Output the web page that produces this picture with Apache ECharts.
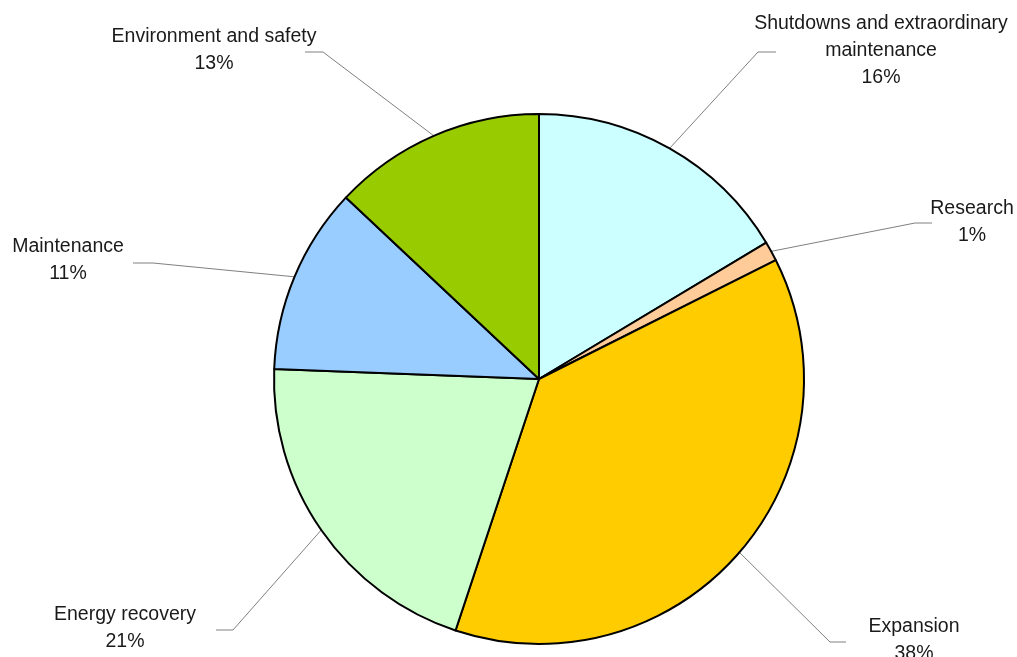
<!DOCTYPE html>
<html>
<head>
<meta charset="utf-8">
<script src="https://cdn.jsdelivr.net/npm/echarts@6/dist/echarts.min.js"></script>
<style>
  html, body { margin: 0; padding: 0; background: #ffffff; }
  #chart { width: 1017px; height: 657px; }
</style>
</head>
<body>
<div id="chart"></div>
<script>
// ---- data ----
const categories = [
  'Shutdowns and extraordinary\nmaintenance',
  'Research',
  'Expansion',
  'Energy recovery',
  'Maintenance',
  'Environment and safety'
];
const values = [16.4, 1.2, 37.5, 20.5, 11.4, 13.0];
const colors = ['#CCFFFF', '#FFCC99', '#FFCC00', '#CCFFCC', '#99CCFF', '#99CC00'];

// ---- label layout (annotation placement, not data) ----
// label centre, knee point and end of leader line
const labelPlacement = [
  { x: 881, y: 51,  knee: [758, 52],  end: [776, 52] },
  { x: 972, y: 222, knee: [915, 223], end: [932, 223] },
  { x: 914, y: 640, knee: [830, 642], end: [846, 642] },
  { x: 125, y: 628, knee: [233, 630], end: [216, 630] },
  { x: 68,  y: 260, knee: [153, 263], end: [133, 263] },
  { x: 214, y: 50,  knee: [323, 52],  end: [305, 52] }
];

const total = values.reduce((a, b) => a + b, 0);
const chart = echarts.init(document.getElementById('chart'), null, { renderer: 'canvas' });

chart.setOption({
  backgroundColor: '#ffffff',
  animation: false,
  series: [{
    type: 'pie',
    center: [539, 379],
    radius: 265,
    startAngle: 90,
    clockwise: true,
    avoidLabelOverlap: false,
    data: categories.map((name, i) => ({
      name: name,
      value: values[i],
      itemStyle: { color: colors[i] }
    })),
    itemStyle: { borderColor: '#000000', borderWidth: 2 },
    emphasis: { disabled: true },
    label: {
      show: true,
      position: 'outside',
      alignTo: 'none',
      fontFamily: 'Liberation Sans, Arial, sans-serif',
      fontSize: 19.5,
      lineHeight: 27,
      color: '#1a1a1a',
      align: 'center',
      formatter: p => p.name + '\n' + Math.round(p.value / total * 100 + 1e-9) + '%'
    },
    labelLine: {
      show: true,
      length: 20,
      length2: 20,
      lineStyle: { color: '#808080', width: 1 }
    },
    labelLayout: function (params) {
      const lp = labelPlacement[params.dataIndex];
      const out = { x: lp.x, y: lp.y, align: 'center', verticalAlign: 'middle' };
      if (params.labelLinePoints && params.labelLinePoints.length) {
        out.labelLinePoints = [params.labelLinePoints[0], lp.knee, lp.end];
      }
      return out;
    }
  }]
});
</script>
</body>
</html>
